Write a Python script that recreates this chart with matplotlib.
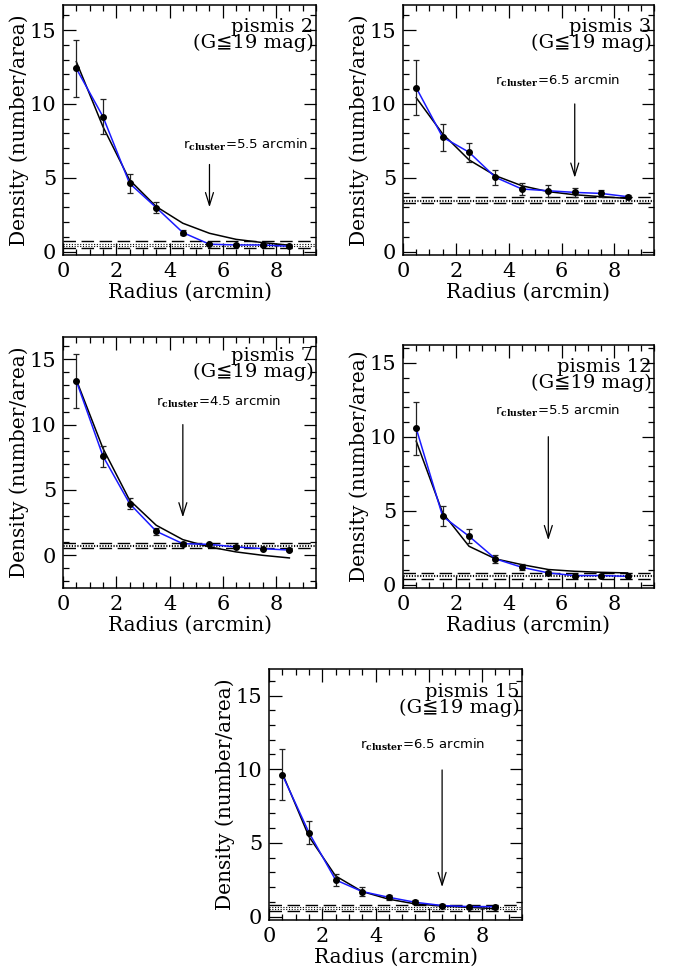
import numpy as np
import matplotlib.pyplot as plt
from matplotlib.ticker import MultipleLocator

plt.rcParams['font.family'] = ['DejaVu Serif', 'DejaVu Sans']
plt.rcParams['mathtext.fontset'] = 'dejavuserif'

radius = [0.5, 1.5, 2.5, 3.5, 4.5, 5.5, 6.5, 7.5, 8.5]

names = ['pismis 2', 'pismis 3', 'pismis 7', 'pismis 12', 'pismis 15']
r_cluster = [5.5, 6.5, 4.5, 5.5, 6.5]

# observed density profiles (number/area) and errors
dens_p2 = [12.4, 9.14, 4.62, 2.98, 1.29, 0.50, 0.45, 0.45, 0.36]
err_p2 = [1.95, 1.2, 0.62, 0.37, 0.15, 0.08, 0.06, 0.06, 0.05]
dens_p3 = [11.1, 7.75, 6.73, 5.03, 4.24, 4.12, 4.01, 3.94, 3.72]
err_p3 = [1.85, 0.91, 0.65, 0.53, 0.38, 0.39, 0.31, 0.22, 0.12]
dens_p7 = [13.34, 7.59, 3.96, 1.84, 0.89, 0.84, 0.64, 0.51, 0.40]
err_p7 = [2.08, 0.8, 0.45, 0.28, 0.14, 0.1, 0.08, 0.06, 0.06]
dens_p12 = [10.56, 4.62, 3.27, 1.74, 1.17, 0.79, 0.61, 0.61, 0.56]
err_p12 = [1.77, 0.67, 0.47, 0.28, 0.19, 0.1, 0.07, 0.06, 0.05]
dens_p15 = [9.62, 5.70, 2.49, 1.70, 1.31, 0.97, 0.75, 0.68, 0.68]
err_p15 = [1.73, 0.8, 0.38, 0.28, 0.17, 0.14, 0.08, 0.06, 0.06]

# King profile fits
king_p2 = [12.86, 8.46, 4.85, 3.05, 1.92, 1.24, 0.83, 0.61, 0.43]
king_p3 = [10.42, 7.98, 6.21, 5.14, 4.46, 4.06, 3.85, 3.72, 3.60]
king_p7 = [13.42, 8.18, 4.22, 2.30, 1.20, 0.64, 0.26, 0.0, -0.2]
king_p12 = [9.70, 4.85, 2.59, 1.74, 1.35, 1.02, 0.90, 0.83, 0.79]
king_p15 = [9.73, 5.43, 2.76, 1.70, 1.18, 0.86, 0.72, 0.63, 0.54]

# background level: dashed (upper, lower) and dotted (upper, lower)
bg_dash = [(0.74, 0.23), (3.67, 3.29), (0.97, 0.56), (0.79, 0.41), (0.79, 0.38)]
bg_dot = [(0.52, 0.40), (3.51, 3.42), (0.77, 0.69), (0.68, 0.56), (0.63, 0.54)]

dens = [dens_p2, dens_p3, dens_p7, dens_p12, dens_p15]
errs = [err_p2, err_p3, err_p7, err_p12, err_p15]
kings = [king_p2, king_p3, king_p7, king_p12, king_p15]

# arrow (top, tip) and label position
arrow_y = [(5.9, 3.0), (10.0, 5.0), (10.0, 2.9), (10.0, 3.0), (9.95, 2.0)]
label_xy = [(4.5, 6.7), (3.5, 11.0), (3.5, 11.1), (3.5, 11.2), (3.4, 11.1)]
ylims = [(-0.23, 16.7), (-0.23, 16.7), (-2.5, 16.7), (-0.23, 16.2), (-0.23, 16.8)]
title_y = [13.8, 13.8, 13.65, 13.3, 13.8]

W, H = 673, 975
boxes = [(63, 5, 253, 250), (403, 5, 251, 250), (63, 337, 253, 251),
         (403, 345, 251, 243), (269, 669, 253, 251)]

fig = plt.figure(figsize=(6.73, 9.75), dpi=100)

for i in range(5):
    x0, y0, w, h = boxes[i]
    ax = fig.add_axes([x0 / W, 1 - (y0 + h) / H, w / W, h / H])
    ax.set_xlim(0, 9.5)
    ax.set_ylim(*ylims[i])

    for yb in bg_dash[i]:
        ax.axhline(yb, color='black', lw=1.0, ls=(0, (9, 4)))
    for yb in bg_dot[i]:
        ax.axhline(yb, color='black', lw=0.8, ls=(0, (1, 1.5)))

    ax.plot(radius, kings[i], color='black', lw=1.1)
    ax.errorbar(radius, dens[i], yerr=errs[i], fmt='none', ecolor='#222222',
                elinewidth=0.9, capsize=2.5, capthick=0.9)
    ax.plot(radius, dens[i], color='#1a1aff', lw=1.1, marker='o',
            markersize=4, markerfacecolor='black', markeredgecolor='black')

    rc = r_cluster[i]
    ax.annotate('', xy=(rc, arrow_y[i][1]), xytext=(rc, arrow_y[i][0]),
                arrowprops=dict(arrowstyle='->, head_length=0.7, head_width=0.22',
                                color='black', lw=0.9,
                                mutation_scale=13, shrinkA=0, shrinkB=0))
    ax.text(label_xy[i][0], label_xy[i][1],
            r'r$_{\mathbf{cluster}}$=%.1f arcmin' % rc,
            fontsize=9.5, family=['DejaVu Sans'], va='bottom', ha='left')

    ax.text(9.4, title_y[i], names[i] + '\n(G\u226619 mag)', ha='right',
            va='baseline', multialignment='right', linespacing=0.85,
            fontsize=14, family=['DejaVu Serif', 'DejaVu Sans'])

    ax.xaxis.set_major_locator(MultipleLocator(2))
    ax.xaxis.set_minor_locator(MultipleLocator(0.5))
    ax.yaxis.set_major_locator(MultipleLocator(5))
    ax.yaxis.set_minor_locator(MultipleLocator(1))
    ax.tick_params(which='both', direction='in', top=True, right=True,
                   labelsize=15, width=0.9, pad=5)
    ax.tick_params(which='major', length=9)
    ax.tick_params(which='minor', length=4.5)
    for s in ax.spines.values():
        s.set_linewidth(1.1)

    ax.set_xlabel('Radius (arcmin)', fontsize=14.5, labelpad=1)
    ax.set_ylabel('Density (number/area)', fontsize=14.5, labelpad=0)

fig.savefig('out.png', dpi=100)
